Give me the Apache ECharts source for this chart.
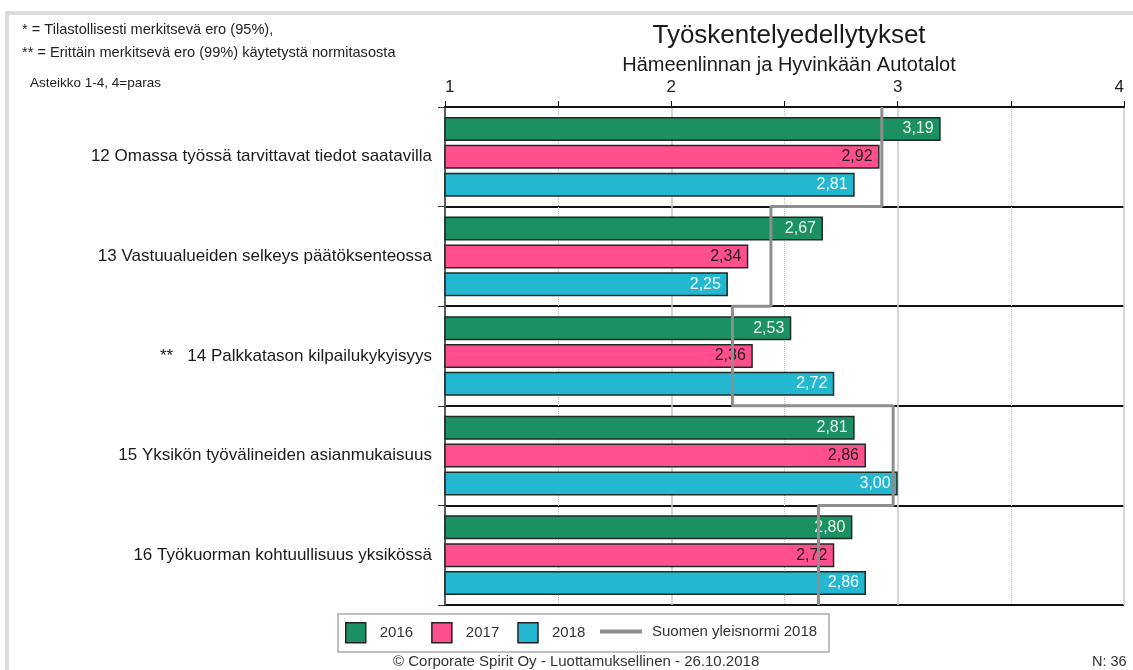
<!DOCTYPE html>
<html>
<head>
<meta charset="utf-8">
<script src="https://cdn.jsdelivr.net/npm/echarts@6/dist/echarts.min.js"></script>
<style>
html,body{margin:0;padding:0;background:#fff;}
#chart{width:1133px;height:670px;}
</style>
</head>
<body>
<div id="chart"></div>
<script>
const categories = [
  '12 Omassa työssä tarvittavat tiedot saatavilla',
  '13 Vastuualueiden selkeys päätöksenteossa',
  '**   14 Palkkatason kilpailukykyisyys',
  '15 Yksikön työvälineiden asianmukaisuus',
  '16 Työkuorman kohtuullisuus yksikössä'
];
const values2016 = [3.19, 2.67, 2.53, 2.81, 2.80];
const values2017 = [2.92, 2.34, 2.36, 2.86, 2.72];
const values2018 = [2.81, 2.25, 2.72, 3.00, 2.86];
const normValues = [2.93, 2.44, 2.27, 2.98, 2.65];
const seriesNames = ['2016', '2017', '2018', 'Suomen yleisnormi 2018'];

const FONT = "'Liberation Sans', Arial, sans-serif";
const fmt = p => Number(p.value).toFixed(2).replace('.', ',');

// step points for the norm line built from normValues
const normPoints = [];
normValues.forEach((v, i) => { normPoints.push([v, i]); normPoints.push([v, i + 1]); });

const chart = echarts.init(document.getElementById('chart'));

function barSeries(name, data, color, labelColor) {
  return {
    name: name, type: 'bar', data: data,
    xAxisIndex: 0, yAxisIndex: 0,
    barWidth: 24, barGap: '16%',
    itemStyle: { color: color, borderColor: '#1f2a26', borderWidth: 1.5 },
    label: {
      show: true, position: 'insideRight', distance: 7,
      formatter: fmt, color: labelColor, fontSize: 16, fontFamily: FONT
    },
    z: 2
  };
}

chart.setOption({
  animation: false,
  textStyle: { fontFamily: FONT },
  title: [
    { text: 'Työskentelyedellytykset', left: 784, top: 18, textAlign: 'center',
      textStyle: { fontSize: 26, fontWeight: 'normal', color: '#1a1a1a', fontFamily: FONT } },
    { text: 'Hämeenlinnan ja Hyvinkään Autotalot', left: 784, top: 50, textAlign: 'center',
      textStyle: { fontSize: 20, fontWeight: 'normal', color: '#1a1a1a', fontFamily: FONT } }
  ],
  grid: { left: 445, right: 9, top: 107, bottom: 65, containLabel: false },
  xAxis: [{
    type: 'value', position: 'top', min: 1, max: 4, interval: 1,
    axisLine: { show: true, lineStyle: { color: '#111', width: 2 } },
    axisTick: { show: true, length: 6, lineStyle: { color: '#111' } },
    minorTick: { show: true, splitNumber: 2, length: 6, lineStyle: { color: '#111' } },
    splitLine: { show: true, lineStyle: { color: '#c8c8c8', width: 1.5 } },
    minorSplitLine: { show: true, lineStyle: { color: '#bdbdbd', type: 'dotted', width: 1 } },
    axisLabel: { fontSize: 17, color: '#222', margin: 11, fontFamily: FONT,
      alignMinLabel: 'left', alignMaxLabel: 'right' }
  }],
  yAxis: [{
    type: 'category', data: categories, inverse: true,
    axisLine: { show: true, lineStyle: { color: '#333', width: 1.5 } },
    axisTick: { show: true, length: 7, lineStyle: { color: '#333' } },
    splitLine: { show: true, lineStyle: { color: '#111', width: 2 } },
    axisLabel: { fontSize: 17, color: '#1a1a1a', margin: 13, fontFamily: FONT }
  }, {
    type: 'value', min: 0, max: 5, inverse: true, show: false,
    splitLine: { show: false }
  }],
  legend: [{
    data: seriesNames.slice(0, 3),
    left: 345, top: 622, orient: 'horizontal',
    itemWidth: 20, itemHeight: 20, itemGap: 18, icon: 'rect', padding: 0,
    itemStyle: { borderColor: '#222', borderWidth: 1.5 },
    textStyle: { fontSize: 15, color: '#333', fontFamily: FONT, padding: [0, 0, 0, 9] }
  }, {
    data: [{ name: seriesNames[3], icon: 'path://M0,0H42V4H0Z' }],
    left: 600, top: 624, orient: 'horizontal',
    itemWidth: 42, itemHeight: 20, padding: 0,
    itemStyle: { color: '#8c8f8e', borderWidth: 0 },
    textStyle: { fontSize: 15, color: '#333', fontFamily: FONT, padding: [0, 0, 0, 5] }
  }],
  series: [
    barSeries(seriesNames[0], values2016, '#1b9163', '#e6f4ea'),
    barSeries(seriesNames[1], values2017, '#ff4f8e', '#222'),
    barSeries(seriesNames[2], values2018, '#23b8cf', '#f4fbff'),
    {
      name: seriesNames[3], type: 'line', xAxisIndex: 0, yAxisIndex: 1,
      data: normPoints, symbol: 'none', showSymbol: false,
      lineStyle: { color: '#8c8f8e', width: 3 },
      itemStyle: { color: '#8c8f8e' },
      z: 5
    }
  ],
  graphic: [
    { type: 'rect', shape: { x: 7, y: 13, width: 1140, height: 700 },
      style: { fill: 'none', stroke: '#dcdcdc', lineWidth: 4 }, silent: true },
    { type: 'rect', shape: { x: 338, y: 614, width: 491, height: 38 },
      style: { fill: 'none', stroke: '#aaaaaa', lineWidth: 1.5 }, silent: true },
    { type: 'text', left: 22, top: 22,
      style: { text: '* = Tilastollisesti merkitsevä ero (95%),', fontSize: 14.6, fill: '#222', fontFamily: FONT } },
    { type: 'text', left: 22, top: 45,
      style: { text: '** = Erittäin merkitsevä ero (99%) käytetystä normitasosta', fontSize: 14.6, fill: '#222', fontFamily: FONT } },
    { type: 'text', left: 30, top: 76,
      style: { text: 'Asteikko 1-4, 4=paras', fontSize: 13.5, fill: '#222', fontFamily: FONT } },
    { type: 'text', left: 393, top: 654,
      style: { text: '© Corporate Spirit Oy - Luottamuksellinen - 26.10.2018', fontSize: 15, fill: '#333', fontFamily: FONT } },
    { type: 'text', left: 1092, top: 654,
      style: { text: 'N: 36', fontSize: 14.5, fill: '#333', fontFamily: FONT } }
  ]
});
</script>
</body>
</html>
